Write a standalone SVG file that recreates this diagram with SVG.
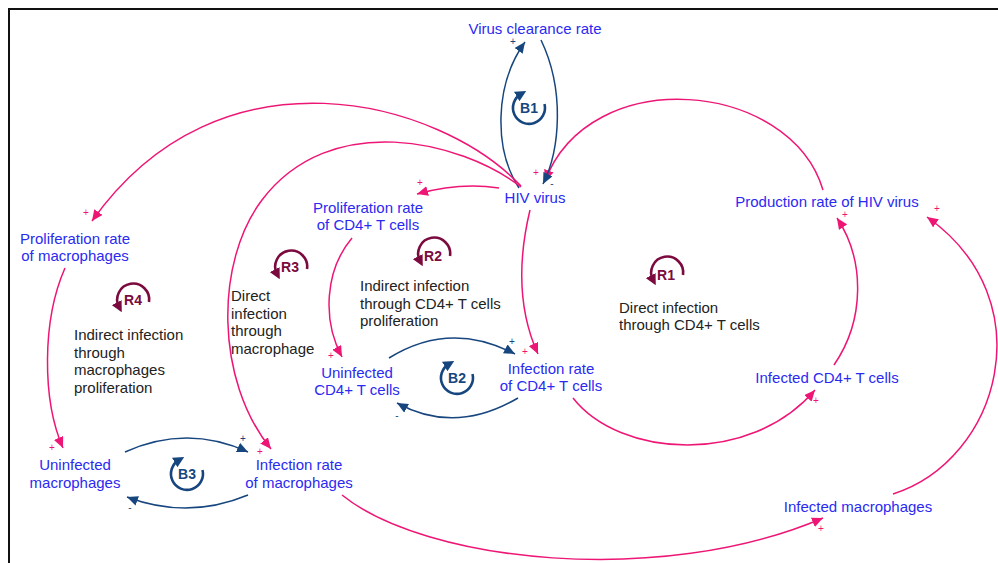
<svg xmlns="http://www.w3.org/2000/svg" width="998" height="563" viewBox="0 0 998 563">
<style>
.node{font-family:"Liberation Sans",Arial,sans-serif;font-size:15px;fill:#2a2af2;text-anchor:middle}
.note{font-family:"Liberation Sans",Arial,sans-serif;font-size:15px;fill:#222}
.pink{fill:none;stroke:#ee1675;stroke-width:1.5}
.blue{fill:none;stroke:#17467f;stroke-width:1.5}
.sp{font-family:"Liberation Sans",Arial,sans-serif;font-size:10px;fill:#ee1675;text-anchor:middle}
.sb{font-family:"Liberation Sans",Arial,sans-serif;font-size:10px;fill:#17467f;text-anchor:middle}
.rl{fill:none;stroke:#7b0a3e;stroke-width:2.6}
.bl{fill:none;stroke:#17467f;stroke-width:2.6}
.rt{font-family:"Liberation Sans",Arial,sans-serif;font-size:14px;font-weight:bold;fill:#7b0a3e;text-anchor:middle}
.bt{font-family:"Liberation Sans",Arial,sans-serif;font-size:14px;font-weight:bold;fill:#17467f;text-anchor:middle}
</style>
<defs>
<marker id="ap" markerUnits="userSpaceOnUse" markerWidth="12" markerHeight="10" refX="11" refY="5" orient="auto"><path d="M0,0 L11,5 L0,10 z" fill="#ee1675"/></marker>
<marker id="ab" markerUnits="userSpaceOnUse" markerWidth="12" markerHeight="10" refX="11" refY="5" orient="auto"><path d="M0,0 L11,5 L0,10 z" fill="#17467f"/></marker>
<marker id="ar" markerUnits="userSpaceOnUse" markerWidth="11" markerHeight="11" refX="5" refY="5.5" orient="auto"><path d="M0,0 L11,5.5 L0,11 z" fill="#7b0a3e"/></marker>
<marker id="abl" markerUnits="userSpaceOnUse" markerWidth="11" markerHeight="11" refX="5" refY="5.5" orient="auto"><path d="M0,0 L11,5.5 L0,11 z" fill="#17467f"/></marker>
</defs>
<rect width="998" height="563" fill="#fff"/>
<path d="M9,563 L9,9 L998,9" fill="none" stroke="#111" stroke-width="2"/>

<g id="connectors">
<path class="pink" d="M823,190 C790,80 590,62 545,181" marker-end="url(#ap)"/>
<path class="blue" d="M519,188 C494,150 494,85 525,42" marker-end="url(#ab)"/>
<path class="blue" d="M541,40 C565,90 560,150 543,184" marker-end="url(#ab)"/>
<path class="pink" d="M499,188 Q460,182 417,194" marker-end="url(#ap)"/>
<path class="pink" d="M521,186 C440,100 220,40 92,221" marker-end="url(#ap)"/>
<path class="pink" d="M521,187 C460,140 330,110 262,200 C215,262 215,380 271,449" marker-end="url(#ap)"/>
<path class="pink" d="M530,210 C518,260 518,310 538,354" marker-end="url(#ap)"/>
<path class="pink" d="M352,238 C325,270 322,320 342,357" marker-end="url(#ap)"/>
<path class="pink" d="M65,268 C42,320 42,400 63,448" marker-end="url(#ap)"/>
<path class="blue" d="M389,358 Q450,320 515,354" marker-end="url(#ab)"/>
<path class="blue" d="M518,398 Q455,435 397,403" marker-end="url(#ab)"/>
<path class="blue" d="M125,452 Q187,424 248,452" marker-end="url(#ab)"/>
<path class="blue" d="M248,495 Q188,520 127,497" marker-end="url(#ab)"/>
<path class="pink" d="M573,398 C620,458 750,466 815,390" marker-end="url(#ap)"/>
<path class="pink" d="M834,365 C865,320 865,260 837,218" marker-end="url(#ap)"/>
<path class="pink" d="M893,494 C1000,460 1045,300 927,217" marker-end="url(#ap)"/>
<path class="pink" d="M342,495 C425,562 660,588 823,518" marker-end="url(#ap)"/>
<text class="sb" x="513" y="45">+</text>
<text class="sb" x="552" y="187">-</text>
<text class="sp" x="536" y="176">+</text>
<text class="sp" x="420" y="186">+</text>
<text class="sp" x="86" y="216">+</text>
<text class="sp" x="260" y="455">+</text>
<text class="sp" x="525" y="355">+</text>
<text class="sp" x="331" y="359">+</text>
<text class="sp" x="52" y="451">+</text>
<text class="sb" x="512" y="345">+</text>
<text class="sb" x="397" y="419">-</text>
<text class="sb" x="243" y="442">+</text>
<text class="sb" x="130" y="511">-</text>
<text class="sp" x="816" y="404">+</text>
<text class="sp" x="845" y="218">+</text>
<text class="sp" x="937" y="212">+</text>
<text class="sp" x="821" y="532">+</text>
</g>

<g id="virus-clearance-rate"><text class="node" x="535" y="34">Virus clearance rate</text></g>
<g id="hiv-virus"><text class="node" x="535" y="203">HIV virus</text></g>
<g id="proliferation-cd4"><text class="node" x="368" y="213">Proliferation rate</text><text class="node" x="368" y="230">of CD4+ T cells</text></g>
<g id="proliferation-macrophages"><text class="node" x="75" y="244">Proliferation rate</text><text class="node" x="75" y="261">of macrophages</text></g>
<g id="production-rate"><text class="node" x="827" y="207">Production rate of HIV virus</text></g>
<g id="uninfected-cd4"><text class="node" x="357" y="378">Uninfected</text><text class="node" x="357" y="395">CD4+ T cells</text></g>
<g id="infection-rate-cd4"><text class="node" x="551" y="374">Infection rate</text><text class="node" x="551" y="391">of CD4+ T cells</text></g>
<g id="infected-cd4"><text class="node" x="827" y="383">Infected CD4+ T cells</text></g>
<g id="uninfected-macrophages"><text class="node" x="75" y="470">Uninfected</text><text class="node" x="75" y="488">macrophages</text></g>
<g id="infection-rate-macrophages"><text class="node" x="299" y="470">Infection rate</text><text class="node" x="299" y="488">of macrophages</text></g>
<g id="infected-macrophages"><text class="node" x="858" y="512">Infected macrophages</text></g>

<g id="loop-b1"><path class="bl" d="M544.5,104 A16,16 0 1 1 521,94" marker-end="url(#abl)"/><text class="bt" x="529" y="113">B1</text></g>
<g id="loop-b2"><path class="bl" d="M472.5,374 A16,16 0 1 1 449,364" marker-end="url(#abl)"/><text class="bt" x="457" y="383">B2</text></g>
<g id="loop-b3"><path class="bl" d="M202.5,470 A16,16 0 1 1 179,460" marker-end="url(#abl)"/><text class="bt" x="187" y="479">B3</text></g>
<g id="loop-r1"><path class="rl" d="M683,275 A16,16 0 1 0 653,280" marker-end="url(#ar)"/><text class="rt" x="666" y="280">R1</text></g>
<g id="loop-r2"><path class="rl" d="M450,256 A16,16 0 1 0 420,261" marker-end="url(#ar)"/><text class="rt" x="433" y="261">R2</text></g>
<g id="loop-r3"><path class="rl" d="M307,269 A16,16 0 1 0 277,274" marker-end="url(#ar)"/><text class="rt" x="290" y="272">R3</text></g>
<g id="loop-r4"><path class="rl" d="M149,302 A16,16 0 1 0 119,307" marker-end="url(#ar)"/><text class="rt" x="133" y="305">R4</text></g>

<g id="note-r4"><text class="note" x="74" y="340">Indirect infection</text><text class="note" x="74" y="357.5">through</text><text class="note" x="74" y="375">macrophages</text><text class="note" x="74" y="392.5">proliferation</text></g>
<g id="note-r3"><text class="note" x="231" y="301">Direct</text><text class="note" x="231" y="318.5">infection</text><text class="note" x="231" y="336">through</text><text class="note" x="231" y="353.5">macrophage</text></g>
<g id="note-r2"><text class="note" x="360" y="291">Indirect infection</text><text class="note" x="360" y="308.5">through CD4+ T cells</text><text class="note" x="360" y="326">proliferation</text></g>
<g id="note-r1"><text class="note" x="619" y="313">Direct infection</text><text class="note" x="619" y="330">through CD4+ T cells</text></g>
</svg>
